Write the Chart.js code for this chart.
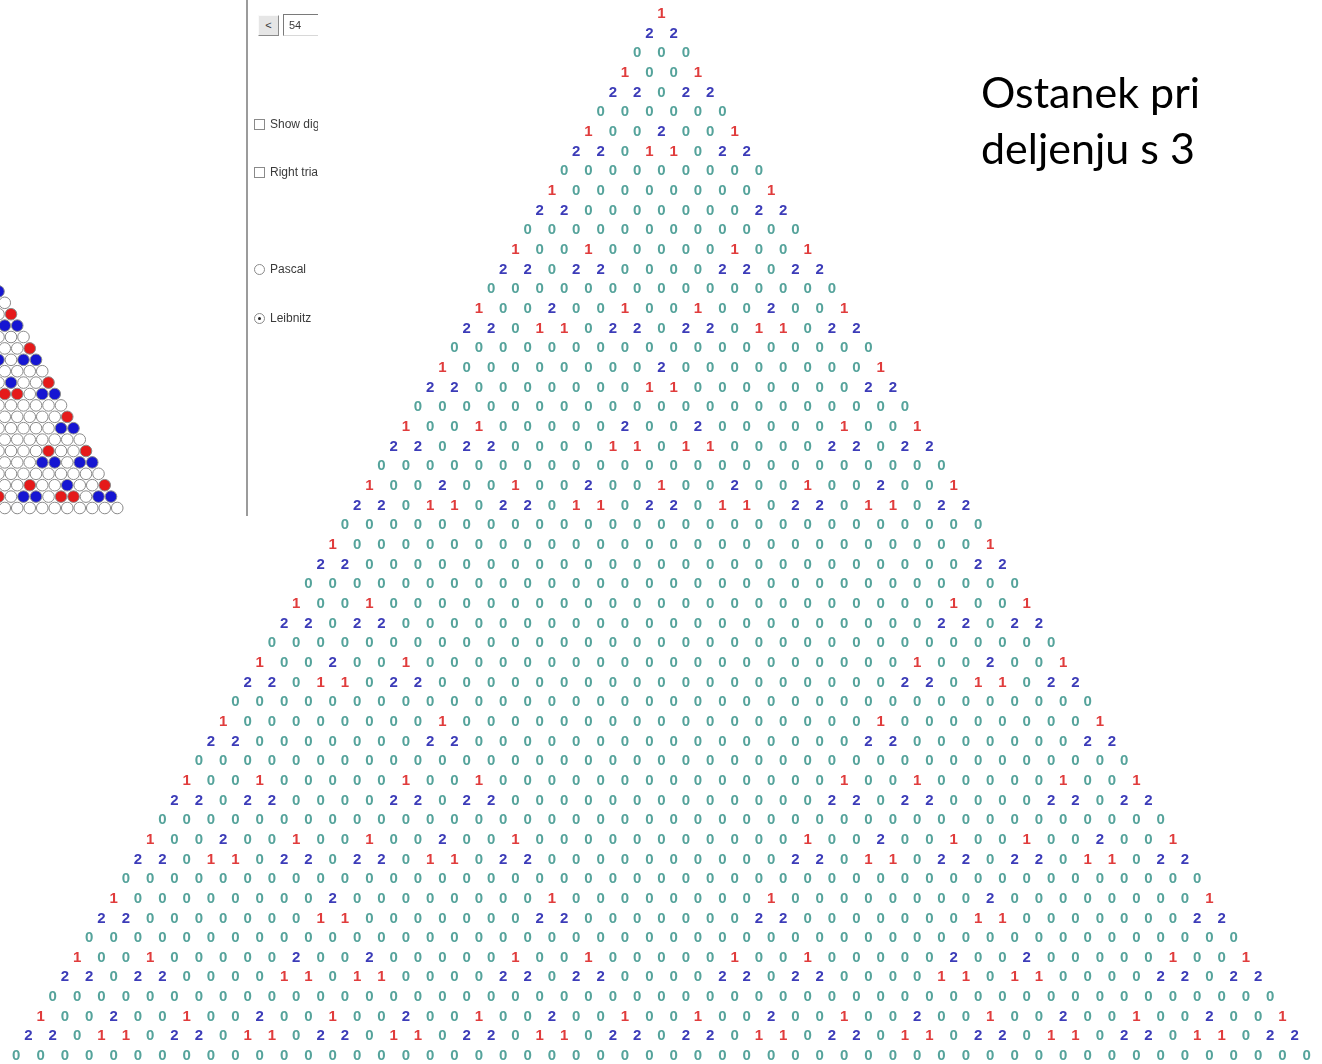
<!DOCTYPE html>
<html lang="sl">
<head>
<meta charset="utf-8" />
<title>Ostanek pri deljenju s 3</title>
<script src="https://cdn.jsdelivr.net/npm/chart.js@4.4.1/dist/chart.umd.min.js"></script>
<style>
  html, body { margin: 0; padding: 0; background: #fff; }
  #wrap { position: relative; width: 1322px; height: 1064px; overflow: hidden; }
  #chart { position: absolute; left: 0; top: 0; }
  .note { position: absolute; left: 981px; top: 64px; font-family: Lato, "Open Sans", sans-serif;
          font-size: 43px; line-height: 56px; color: #000; white-space: nowrap; }
  .vline { position: absolute; left: 246px; top: 0; width: 2px; height: 516px; background: #9b9b9b; }
  .panel { position: absolute; left: 248px; top: 0; width: 70px; height: 517px; overflow: hidden;
           font-family: "Liberation Sans", Arial, sans-serif; font-size: 12px; color: #3a3a3a; }
  .panel div, .panel span { position: absolute; white-space: nowrap; }
  .btn { left: 10px; top: 15px; width: 19px; height: 19px; background: #e6e6e6;
         border: 1px solid; border-color: #fafafa #8a8a8a #8a8a8a #fafafa; text-align: center; line-height: 19px; font-size: 11px; }
  .inp { left: 35px; top: 14px; width: 50px; height: 20px; background: #fff;
         border: 1px solid; border-color: #7a7a7a #d8d8d8 #d8d8d8 #7a7a7a; line-height: 20px; padding-left: 5px; font-size: 11px; }
  .box { left: 6px; width: 9px; height: 9px; border: 1px solid #8a8a8a; background: #fff; }
  .rad { left: 6px; width: 9px; height: 9px; border: 1px solid #8a8a8a; border-radius: 50%; background: #fff; }
  .dot { left: 3px; top: 3px; width: 3px; height: 3px; border-radius: 50%; background: #222; }
  .lbl { left: 22px; line-height: 12px; }
</style>
</head>
<body>
<div id="wrap">
  <canvas id="chart" width="1322" height="1064"></canvas>
  <div class="vline"></div>
  <div class="panel">
    <div class="btn">&lt;</div>
    <div class="inp">54</div>
    <div class="box" style="top:119px"></div><span class="lbl" style="top:118px">Show digits</span>
    <div class="box" style="top:167px"></div><span class="lbl" style="top:166px">Right triangle</span>
    <div class="rad" style="top:264px"></div><span class="lbl" style="top:263px">Pascal</span>
    <div class="rad" style="top:313px"><div class="dot"></div></div><span class="lbl" style="top:312px">Leibnitz</span>
  </div>
  <div class="note">Ostanek pri<br>deljenju s 3</div>
</div>

<script>
// vrstice trikotnika (ostanek pri deljenju s 3), presledki so samo za berljivost
const rows = [
  "1",
  "22",
  "000",
  "100 1",
  "220 22",
  "000 000",
  "100 200 1",
  "220 110 22",
  "000 000 000",
  "100 000 000 1",
  "220 000 000 22",
  "000 000 000 000",
  "100 100 000 100 1",
  "220 220 000 220 22",
  "000 000 000 000 000",
  "100 200 100 100 200 1",
  "220 110 220 220 110 22",
  "000 000 000 000 000 000",
  "100 000 000 200 000 000 1",
  "220 000 000 110 000 000 22",
  "000 000 000 000 000 000 000",
  "100 100 000 200 200 000 100 1",
  "220 220 000 110 110 000 220 22",
  "000 000 000 000 000 000 000 000",
  "100 200 100 200 100 200 100 200 1",
  "220 110 220 110 220 110 220 110 22",
  "000 000 000 000 000 000 000 000 000",
  "100 000 000 000 000 000 000 000 000 1",
  "220 000 000 000 000 000 000 000 000 22",
  "000 000 000 000 000 000 000 000 000 000",
  "100 100 000 000 000 000 000 000 000 100 1",
  "220 220 000 000 000 000 000 000 000 220 22",
  "000 000 000 000 000 000 000 000 000 000 000",
  "100 200 100 000 000 000 000 000 000 100 200 1",
  "220 110 220 000 000 000 000 000 000 220 110 22",
  "000 000 000 000 000 000 000 000 000 000 000 000",
  "100 000 000 100 000 000 000 000 000 100 000 000 1",
  "220 000 000 220 000 000 000 000 000 220 000 000 22",
  "000 000 000 000 000 000 000 000 000 000 000 000 000",
  "100 100 000 100 100 000 000 000 000 100 100 000 100 1",
  "220 220 000 220 220 000 000 000 000 220 220 000 220 22",
  "000 000 000 000 000 000 000 000 000 000 000 000 000 000",
  "100 200 100 100 200 100 000 000 000 100 200 100 100 200 1",
  "220 110 220 220 110 220 000 000 000 220 110 220 220 110 22",
  "000 000 000 000 000 000 000 000 000 000 000 000 000 000 000",
  "100 000 000 200 000 000 100 000 000 100 000 000 200 000 000 1",
  "220 000 000 110 000 000 220 000 000 220 000 000 110 000 000 22",
  "000 000 000 000 000 000 000 000 000 000 000 000 000 000 000 000",
  "100 100 000 200 200 000 100 100 000 100 100 000 200 200 000 100 1",
  "220 220 000 110 110 000 220 220 000 220 220 000 110 110 000 220 22",
  "000 000 000 000 000 000 000 000 000 000 000 000 000 000 000 000 000",
  "100 200 100 200 100 200 100 200 100 100 200 100 200 100 200 100 200 1",
  "220 110 220 110 220 110 220 110 220 220 110 220 110 220 110 220 110 22",
  "000 000 000 000 000 000 000 000 000 000 000 000 000 000 000 000 000 000"
];

const digitColors = ['#55a39b', '#e03c3c', '#3c3cb8'];   // 0, 1, 2
const circleColors = ['#ffffff', '#e51a1a', '#1616d2'];  // mali trikotnik levo

// geometrija (piksli)
const W = 1322, H = 1064;
const bigCx = 661.5, bigDx = 24.35, bigTop = 13, bigDy = 19.66;
const smallCx = -214, smallDx = 12.5, smallBottom = 508, smallDy = 11.4;

let points = [];
rows.forEach(function (r, i) {
  const s = r.replace(/ /g, '');
  for (let k = 0; k < s.length; k++) {
    points.push({ x: k - (s.length - 1) / 2, y: i + 1, v: Number(s[k]) });
  }
});

const digitLabels = {
  id: 'digitLabels',
  afterDatasetsDraw(chart) {
    const meta = chart.getDatasetMeta(0);
    const ctx = chart.ctx;
    ctx.save();
    ctx.font = 'bold 15px "Liberation Sans"';
    ctx.textAlign = 'center';
    ctx.textBaseline = 'middle';
    meta.data.forEach(function (el, i) {
      const v = points[i].v;
      ctx.fillStyle = digitColors[v];
      ctx.fillText(String(v), el.x, el.y + 1);
    });
    ctx.restore();
  }
};

const nRows = rows.length;
const y2min = nRows - smallBottom / smallDy;

var config = {
  type: 'scatter',
  data: {
    datasets: [
      {
        label: 'ostanki',
        data: points,
        xAxisID: 'x',
        yAxisID: 'y',
        pointRadius: 0,
        pointHoverRadius: 0
      },
      {
        label: 'krogci',
        data: points,
        xAxisID: 'x2',
        yAxisID: 'y2',
        pointRadius: 5.8,
        pointBorderWidth: 1,
        pointBorderColor: '#8a8a8a',
        pointBackgroundColor: function (c) { return circleColors[c.raw.v]; }
      }
    ]
  },
  options: {
    responsive: false,
    animation: false,
    events: [],
    layout: { padding: 0, autoPadding: false },
    plugins: { legend: { display: false }, tooltip: { enabled: false } },
    scales: {
      x: { type: 'linear', display: false, min: -bigCx / bigDx, max: (W - bigCx) / bigDx },
      y: { type: 'linear', display: false, reverse: true, min: 1 - bigTop / bigDy, max: 1 - bigTop / bigDy + H / bigDy },
      x2: { type: 'linear', display: false, min: -smallCx / smallDx, max: (W - smallCx) / smallDx },
      y2: { type: 'linear', display: false, reverse: true, min: y2min, max: y2min + H / smallDy }
    }
  },
  plugins: [digitLabels]
};

window.onload = function () {
  var ctx = document.getElementById('chart').getContext('2d');
  window.myTriangle = new Chart(ctx, config);
};
</script>
</body>
</html>
